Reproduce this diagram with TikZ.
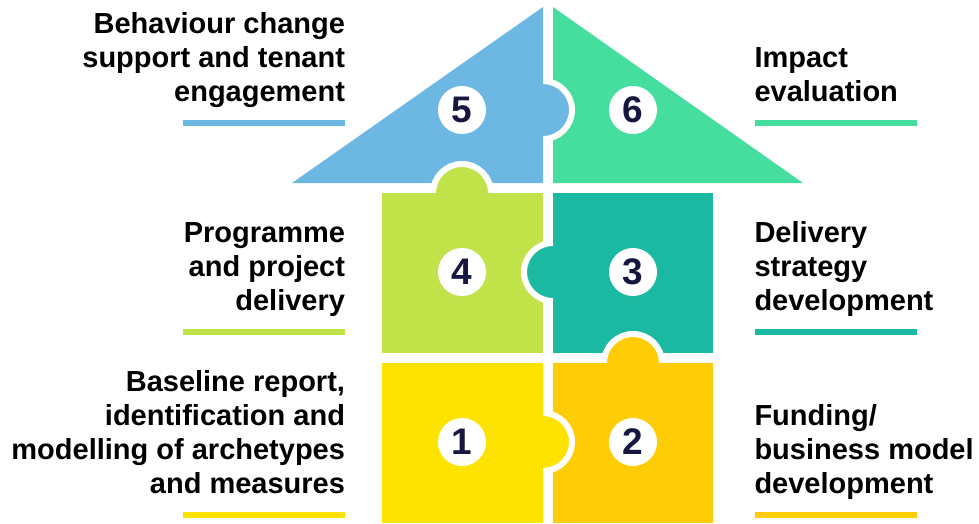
\documentclass[tikz,border=0pt]{standalone}
\usepackage{fontspec}
\setmainfont{Liberation Sans}
\usetikzlibrary{positioning}

\definecolor{blue5}{HTML}{6CB8E2}
\definecolor{green6}{HTML}{45DE9E}
\definecolor{lime4}{HTML}{C2E24A}
\definecolor{teal3}{HTML}{1BB9A1}
\definecolor{yellow1}{HTML}{FFE300}
\definecolor{orange2}{HTML}{FFCD05}
\definecolor{numnavy}{HTML}{16163F}

\begin{document}
\begin{tikzpicture}[x=1pt, y=1pt,
		tab/.style={fill=#1, draw=white, line width=6pt},
		num/.style={circle, fill=white, minimum size=48pt, inner sep=0pt, text=numnavy, font=\fontsize{37}{37}\selectfont\bfseries},
		bar/.style={fill=#1, minimum width=162pt, minimum height=6pt, inner sep=0pt},
		lab/.style={font=\fontsize{29}{34}\selectfont\bfseries, inner sep=0pt}]
		\useasboundingbox (0,0) rectangle (979,523);
		
		% Roof and tiles, each tab under the piece it belongs to
		\fill[green6] (553,516) -- (803,340) -- (553,340) -- cycle;
		\draw[tab=blue5] (543,413) circle (29);
		\fill[blue5] (292,340) -- (543,516) -- (543,340) -- cycle;
		\draw[tab=lime4] (462,330) circle (29);
		\fill[lime4] (382,170) rectangle (543,330);
		\draw[tab=teal3] (553,251) circle (29);
		\fill[teal3] (553,170) rectangle (713,330);
		\draw[tab=orange2] (633,160) circle (29);
		\fill[orange2] (553,0) rectangle (713,160);
		\draw[tab=yellow1] (543,81) circle (29);
		\fill[yellow1] (382,0) rectangle (543,160);
		
		% Numbers
		\node[num] (n5) at (462,413) {5};
		\node[num] (n6) at (633,413) {6};
		\node[num] (n4) at (462,251) {4};
		\node[num] (n3) at (633,251) {3};
		\node[num] (n1) at (462,81) {1};
		\node[num] (n2) at (633,81) {2};
		
		% Bars
		\node[bar=blue5] (b5) at (264,400) {};
		\node[bar=green6] (b6) at (835.5,400) {};
		\node[bar=lime4] (b4) at (264,191) {};
		\node[bar=teal3] (b3) at (835.5,191) {};
		\node[bar=yellow1] (b1) at (264,8) {};
		\node[bar=orange2] (b2) at (835.5,8) {};
		
		% Labels
		\node[lab, align=right, above left=8pt and 0pt of b5.north east] (l5) {Behaviour change\\support and tenant\\engagement\strut};
		\node[lab, align=left, above right=8pt and 0pt of b6.north west] (l6) {Impact\\evaluation\strut};
		\node[lab, align=right, above left=8pt and 0pt of b4.north east] (l4) {Programme\\and project\\delivery\strut};
		\node[lab, align=left, above right=8pt and 0pt of b3.north west] (l3) {Delivery\\strategy\\development\strut};
		\node[lab, align=right, above left=8pt and 0pt of b1.north east] (l1) {Baseline report,\\identification and\\modelling of archetypes\\and measures\strut};
		\node[lab, align=left, above right=8pt and 0pt of b2.north west] (l2) {Funding/\\business model\\development\strut};
	\end{tikzpicture}
\end{document}
